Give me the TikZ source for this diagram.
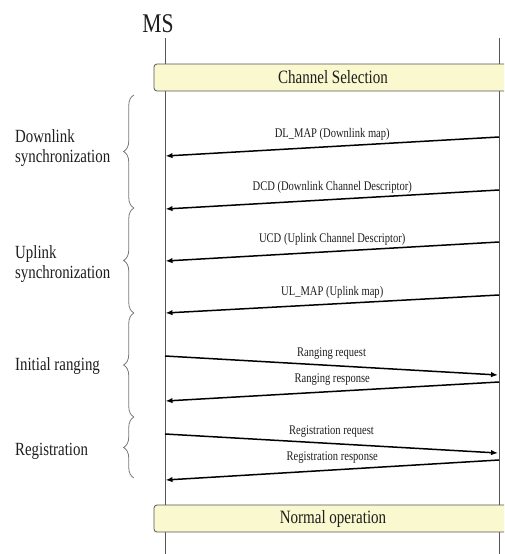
\documentclass[tikz,border=0pt]{standalone}
\usepackage{fontspec}
\setmainfont[FakeStretch=0.8]{Liberation Serif}
\usetikzlibrary{arrows.meta,decorations.pathreplacing}
\definecolor{boxfill}{HTML}{FAF8CF}
\definecolor{lifegray}{HTML}{555555}
\definecolor{bracegray}{HTML}{7A7A7A}
\definecolor{txt}{HTML}{1E1E1E}
\tikzset{
  lifeline/.style={draw=lifegray, line width=0.9pt},
  phasebox/.style={draw=lifegray, line width=0.8pt, fill=boxfill, rounded corners=3pt,
     minimum width=358pt, minimum height=27pt, inner sep=0pt, text=txt,
     font=\fontsize{18.8}{20}\selectfont},
  msg/.style={draw=black, line width=1.5pt, -{Latex[length=7pt,width=5.5pt]}},
  msglabel/.style={midway, yshift=12pt, inner sep=0pt, text=txt,
     font=\fontsize{13.2}{14}\selectfont},
  phasebrace/.style={draw=bracegray, line width=0.8pt,
     decorate, decoration={brace, amplitude=10.5pt}},
  phaselabel/.style={anchor=west, align=left, inner sep=0pt, text=txt,
     font=\fontsize{18.6}{20}\selectfont},
}
\begin{document}
\begin{tikzpicture}[x=1pt, y=-1pt]
\useasboundingbox (0,0) rectangle (504,554);
\clip (0,0) rectangle (504,554);
% lifelines
\coordinate (Ltop) at (165,38);
\coordinate (Lbot) at (165,554);
\coordinate (Rtop) at (499,38);
\coordinate (Rbot) at (499,554);
\draw[lifeline] (Ltop) -- (Lbot);
\draw[lifeline] (Rtop) -- (Rbot);
\node[text=txt, font=\fontsize{27}{28}\selectfont, inner sep=0pt] (ms) at (158,24) {MS};
% phase boxes
\node[phasebox] (cs) at (333,77.5) {Channel Selection};
\node[phasebox] (no) at (333,518.5) {Normal operation};
% message end points
\coordinate (r1) at (499,137); \coordinate (l1) at (165.5,156);
\coordinate (r2) at (499,190); \coordinate (l2) at (165.5,209);
\coordinate (r3) at (499,242); \coordinate (l3) at (165.5,261);
\coordinate (r4) at (499,295); \coordinate (l4) at (165.5,313);
\coordinate (l5) at (165,356); \coordinate (r5) at (498,375);
\coordinate (r6) at (499,382); \coordinate (l6) at (165.5,401);
\coordinate (l7) at (165,434); \coordinate (r7) at (498,453);
\coordinate (r8) at (499,460); \coordinate (l8) at (165.5,480);
\draw[msg] (r1) -- node[msglabel] {DL\_MAP (Downlink map)} (l1);
\draw[msg] (r2) -- node[msglabel] {DCD (Downlink Channel Descriptor)} (l2);
\draw[msg] (r3) -- node[msglabel] {UCD (Uplink Channel Descriptor)} (l3);
\draw[msg] (r4) -- node[msglabel] {UL\_MAP (Uplink map)} (l4);
\draw[msg] (l5) -- node[msglabel] {Ranging request} (r5);
\draw[msg] (r6) -- node[msglabel] {Ranging response} (l6);
\draw[msg] (l7) -- node[msglabel] {Registration request} (r7);
\draw[msg] (r8) -- node[msglabel] {Registration response} (l8);
% braces
\coordinate (b0) at (134,95);
\coordinate (b1) at (134,208);
\coordinate (b2) at (134,313);
\coordinate (b3) at (134,417);
\coordinate (b4) at (134,478);
\draw[phasebrace] (b1) -- (b0);
\draw[phasebrace] (b2) -- (b1);
\draw[phasebrace] (b3) -- (b2);
\draw[phasebrace] (b4) -- (b3);
% phase labels
\node[phaselabel] (p1) at (15,148) {Downlink\\synchronization};
\node[phaselabel] (p2) at (15,264) {Uplink\\synchronization};
\node[phaselabel] (p3) at (15,366) {Initial ranging};
\node[phaselabel] (p4) at (15,451) {Registration};
\end{tikzpicture}
\end{document}
